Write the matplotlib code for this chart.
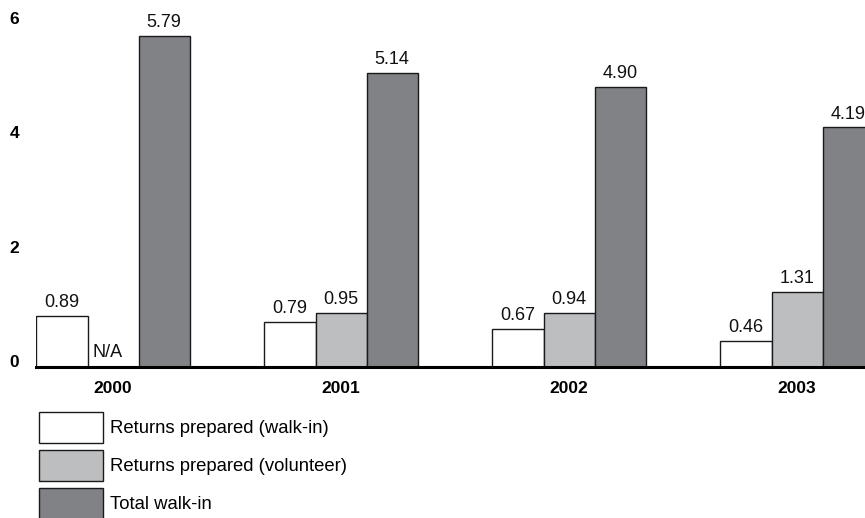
import matplotlib
matplotlib.use("Agg")
import matplotlib.pyplot as plt
import numpy as np

plt.rcParams['font.family'] = ['Liberation Sans', 'DejaVu Sans']

years = ["2000", "2001", "2002", "2003"]
walkin_prepared = [0.89, 0.79, 0.67, 0.46]
volunteer_prepared = [np.nan, 0.95, 0.94, 1.31]
total_walkin = [5.79, 5.14, 4.90, 4.19]
series_names = ["Returns prepared (walk-in)", "Returns prepared (volunteer)", "Total walk-in"]
y_ticks = [0, 2, 4, 6]

colors = ["#ffffff", "#bcbec0", "#808285"]

fig = plt.figure(figsize=(8.65, 5.18), dpi=100)
ax = fig.add_axes([36/865, 1 - 367/518, 1 - 36/865, 367/518])

x = np.arange(len(years))
w = 0.224
series = [walkin_prepared, volunteer_prepared, total_walkin]
containers = []
for i, (vals, c, name) in enumerate(zip(series, colors, series_names)):
    pos = x + (i - 1) * w
    heights = [0 if np.isnan(v) else v for v in vals]
    bc = ax.bar(pos, heights, width=w, color=c, edgecolor="#1a1a1a", linewidth=1.0,
                label=name, zorder=2)
    containers.append(bc)
    for p, v in zip(pos, vals):
        if np.isnan(v):
            ax.annotate("N/A", (p, 0), xytext=(-4, 4.5), textcoords="offset points",
                        ha="center", va="bottom", fontsize=13, color="#111111")
        else:
            ax.annotate(f"{v:.2f}", (p, v), xytext=(0, 3.5), textcoords="offset points",
                        ha="center", va="bottom", fontsize=13, color="#111111")

ax.set_xlim(-0.338, 3.298)
ax.set_ylim(0, 6.42)
ax.set_xticks(x)
ax.set_xticklabels(years, fontweight="bold", fontsize=12.5)
ax.set_yticks(y_ticks)
ax.set_yticklabels([str(t) for t in y_ticks], fontweight="bold", fontsize=12.5)
ax.tick_params(axis="x", length=0, pad=10)
ax.tick_params(axis="y", length=0, pad=12)
for lbl in ax.get_yticklabels():
    lbl.set_va("baseline")
for s in ["top", "right", "left"]:
    ax.spines[s].set_visible(False)
ax.spines["bottom"].set_linewidth(2.2)
ax.spines["bottom"].set_zorder(3)
ax.patch.set_visible(False)

fs = 13.3
fs_px = fs * 100 / 72
hh = (31 / fs_px - 0.245) / 0.65
leg = fig.legend(handles=containers, labels=series_names, loc="upper left",
                 bbox_to_anchor=(39/865, 1 - 412/518), bbox_transform=fig.transFigure,
                 frameon=False, fontsize=fs, borderpad=0, borderaxespad=0,
                 handlelength=64/fs_px, handleheight=hh,
                 labelspacing=7/fs_px, handletextpad=7/fs_px)

fig.savefig("out.png", dpi=100)
